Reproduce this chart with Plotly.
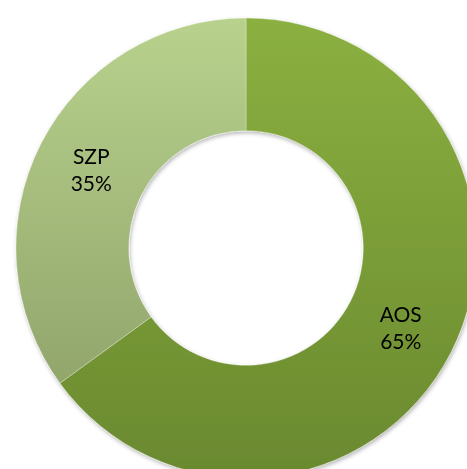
import plotly.graph_objects as go

# Share of each category
labels = ["AOS", "SZP"]
values = [65, 35]
colors = ["#7b9e37", "#a8c27f"]
# top and bottom shades of each slice's vertical gradient
grad_top = ["#8bb040", "#b8d28d"]
grad_bottom = ["#6a892f", "#92a66c"]

fig = go.Figure(
    go.Pie(
        labels=labels,
        values=values,
        hole=0.51,
        sort=False,
        direction="clockwise",
        rotation=0,
        marker=dict(colors=colors, line=dict(color="rgba(255,255,255,0.3)", width=1)),
        texttemplate="%{label}<br>%{percent:.0%}",
        textposition="inside",
        insidetextorientation="horizontal",
        textfont=dict(family="Lato", size=21, color="#000000"),
        domain=dict(x=[16 / 480, 476 / 480], y=[2 / 480, 462 / 480]),
        hoverinfo="label+percent",
    )
)

fig.update_layout(
    width=480,
    height=480,
    margin=dict(l=0, r=0, t=0, b=0),
    showlegend=False,
    paper_bgcolor="#ffffff",
    plot_bgcolor="#ffffff",
)

# Vertical gradient fill on the slices and a soft shadow under the ring
post = """
document.body.style.margin='0';
document.body.style.overflow='hidden';
document.documentElement.style.overflow='hidden';
(function(){
  var gd = document.getElementById('{plot_id}');
  var ns = 'http://www.w3.org/2000/svg';
  var tops = %s, bottoms = %s;
  function apply(){
    var svg = gd.querySelector('svg.main-svg');
    if(!svg) return;
    var defs = svg.querySelector('defs');
    if(!defs){ defs = document.createElementNS(ns,'defs'); svg.insertBefore(defs, svg.firstChild); }
    tops.forEach(function(c, i){
      var id = 'slicegrad' + i;
      if(defs.querySelector('#' + id)) return;
      var g = document.createElementNS(ns,'linearGradient');
      g.setAttribute('id', id);
      g.setAttribute('x1','0'); g.setAttribute('y1','0');
      g.setAttribute('x2','0'); g.setAttribute('y2','1');
      [[0, c], [1, bottoms[i]]].forEach(function(s){
        var st = document.createElementNS(ns,'stop');
        st.setAttribute('offset', s[0]);
        st.setAttribute('stop-color', s[1]);
        g.appendChild(st);
      });
      defs.appendChild(g);
    });
    if(!defs.querySelector('#ringshadow')){
      var f = document.createElementNS(ns,'filter');
      f.setAttribute('id','ringshadow');
      f.setAttribute('x','-10%%'); f.setAttribute('y','-10%%');
      f.setAttribute('width','120%%'); f.setAttribute('height','120%%');
      var d = document.createElementNS(ns,'feDropShadow');
      d.setAttribute('dx','1'); d.setAttribute('dy','2');
      d.setAttribute('stdDeviation','2');
      d.setAttribute('flood-color','#000'); d.setAttribute('flood-opacity','0.3');
      f.appendChild(d);
      defs.appendChild(f);
    }
    var paths = gd.querySelectorAll('g.slice path.surface');
    paths.forEach(function(p, i){
      p.style.setProperty('fill', 'url(#slicegrad' + i + ')');
    });
    var trace = gd.querySelector('g.pielayer g.trace');
    if(trace) trace.setAttribute('filter','url(#ringshadow)');
  }
  apply();
  gd.on && gd.on('plotly_afterplot', apply);
})();
""" % (str(grad_top).replace("'", '"'), str(grad_bottom).replace("'", '"'))

fig.write_html("out.html", post_script=post)
